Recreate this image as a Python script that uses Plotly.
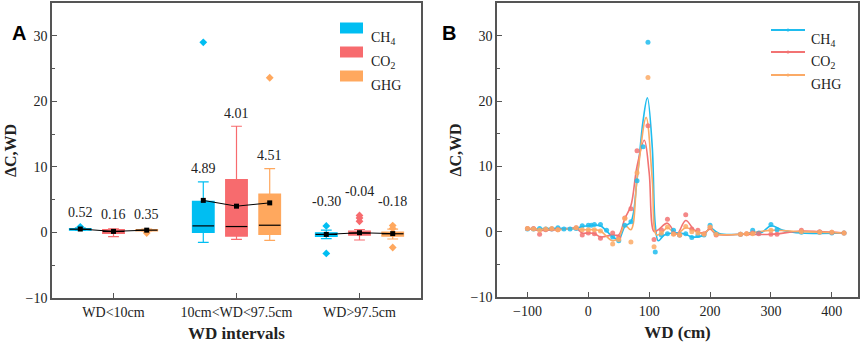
import plotly.graph_objects as go

# ---------------- data: panel A (box statistics) ----------------
groups = ["WD<10cm", "10cm<WD<97.5cm", "WD>97.5cm"]
series = ["CH4", "CO2", "GHG"]
series_labels = ["CH<sub>4</sub>", "CO<sub>2</sub>", "GHG"]

ch4_q1 = [0.35, 0.0, -0.6]
ch4_med = [0.5, 1.0, -0.3]
ch4_q3 = [0.6, 4.75, -0.05]
ch4_lf = [0.3, -1.5, -0.95]
ch4_uf = [0.7, 7.7, 0.35]
ch4_mean = [0.52, 4.89, -0.30]
ch4_out = [[0.85], [29.0], [1.0, -3.2]]

co2_q1 = [-0.15, -0.55, -0.4]
co2_med = [0.15, 0.9, -0.1]
co2_q3 = [0.45, 8.05, 0.2]
co2_lf = [-0.65, -1.05, -1.15]
co2_uf = [0.55, 16.2, 0.45]
co2_mean = [0.16, 4.01, -0.04]
co2_out = [[], [], [1.7, 2.2, 2.6]]

ghg_q1 = [0.25, -0.3, -0.55]
ghg_med = [0.35, 1.1, -0.2]
ghg_q3 = [0.45, 5.85, 0.05]
ghg_lf = [0.2, -1.2, -1.0]
ghg_uf = [0.5, 9.75, 0.5]
ghg_mean = [0.35, 4.51, -0.18]
ghg_out = [[-0.1], [23.6], [1.05, 0.6, -2.3]]

# ---------------- data: panel B (points and smoothed curves) ----------------
ch4_x = [-100, -90, -80, -70, -60, -50, -40, -30, -20, -10, 0, 5, 10, 20, 30, 40, 50, 60, 70, 80, 90, 98,
         110, 120, 130, 140, 150, 160, 170, 180, 190, 200, 210, 250, 270, 280, 300, 310, 350, 380, 400, 420]
ch4_y = [0.4, 0.4, 0.5, 0.4, 0.4, 0.6, 0.4, 0.4, 0.5, 0.9, 1.0, 1.0, 1.1, 1.1, 0.2, -0.8, -1.4, 1.0, 1.5, 7.8, 13.0, 29.0,
         -3.1, -0.5, -0.3, 0.2, -0.5, -0.3, -0.9, -0.6, -0.5, 1.0, -0.3, -0.4, 0.2, -0.2, 1.1, 0.3, -0.1, -0.1, -0.2, -0.2]

co2_x = [-100, -90, -80, -70, -60, -50, -20, -10, 0, 10, 20, 40, 50, 60, 70, 80, 98, 108, 120, 130, 140, 150,
         160, 170, 180, 190, 200, 210, 250, 260, 270, 280, 300, 310, 350, 380, 400, 420]
co2_y = [0.5, 0.5, -0.4, 0.3, 0.4, 0.3, 0.6, -0.5, -0.2, -0.3, -1.0, -0.2, -0.9, 2.1, 3.5, 12.4, 16.2, -1.2, 0.3, 1.9, -0.3, -0.5,
         2.6, 0.4, 0.2, -0.3, 0.6, -0.5, -0.4, -0.3, -0.2, -0.3, -0.4, -0.4, 0.2, 0.0, -0.1, -0.2]

ghg_x = [-100, -90, -80, -70, -60, -50, -20, -10, 0, 10, 20, 40, 50, 60, 70, 80, 98, 108, 120, 130, 140, 150,
         160, 170, 180, 190, 200, 210, 250, 260, 270, 300, 350, 380, 400, 420]
ghg_y = [0.5, 0.4, 0.2, 0.4, 0.5, 0.3, 0.6, 0.3, 0.3, 0.3, 0.1, -1.9, -1.2, 2.0, -1.6, 9.0, 23.6, -2.3, -0.2, 0.7, -0.4, -0.5,
         0.8, 0.0, -0.2, -0.4, 0.7, -0.4, -0.4, -0.3, -0.3, 0.2, 0.0, -0.1, -0.1, -0.2]

ch4_fit_x = [-100, -50, -20, -10, 0, 10, 20, 30, 40, 50, 60, 70, 80, 90, 97, 105, 110, 115, 125, 140, 160, 170,
             190, 200, 215, 250, 270, 285, 300, 320, 350, 420]
ch4_fit_y = [0.4, 0.5, 0.5, 0.8, 0.9, 1.0, 0.9, 0.1, -0.8, -1.2, 0.8, 1.5, 8.0, 17.0, 20.5, 13.0, 1.0, -1.4, -0.5, -0.2, -0.4, -0.8,
             -0.5, 0.6, -0.3, -0.4, -0.1, -0.1, 0.9, 0.2, -0.2, -0.2]

co2_fit_x = [-100, -80, -50, -20, -10, 0, 10, 20, 40, 50, 60, 70, 80, 92, 100, 108, 115, 130, 145, 160, 175,
             190, 200, 210, 250, 300, 350, 380, 420]
co2_fit_y = [0.5, 0.2, 0.3, 0.5, -0.2, -0.2, -0.3, -0.8, -0.5, -0.5, 2.0, 4.0, 10.0, 14.0, 9.0, 0.0, 0.3, 1.3, -0.4, 1.7, 0.2,
             -0.2, 0.4, -0.4, -0.4, -0.4, 0.1, 0.0, -0.2]

ghg_fit_x = [-100, -50, -20, -10, 10, 20, 40, 50, 60, 70, 80, 95, 105, 112, 120, 130, 145, 160, 180, 190, 200,
             210, 250, 300, 350, 420]
ghg_fit_y = [0.5, 0.3, 0.5, 0.3, 0.3, 0.1, -1.4, -0.9, 1.0, 0.3, 8.0, 17.5, 8.0, -0.5, -0.2, 0.6, -0.4, 0.6, -0.1, -0.3, 0.5,
             -0.3, -0.4, 0.2, 0.0, -0.2]

# ---------------- styling ----------------
W, H = 865, 343
SERIF = "Liberation Serif, Times New Roman, serif"
box_colors = ["#00BEF2", "#F76B6E", "#FFA85E"]
line_colors = ["#1FBCEE", "#F27373", "#FBAA66"]
offsets = [-0.27, 0.0, 0.27]
box_w = 0.176
label_pad = [2.2, 2.0, 3.7]

stats = [
    (ch4_q1, ch4_med, ch4_q3, ch4_lf, ch4_uf, ch4_mean, ch4_out),
    (co2_q1, co2_med, co2_q3, co2_lf, co2_uf, co2_mean, co2_out),
    (ghg_q1, ghg_med, ghg_q3, ghg_lf, ghg_uf, ghg_mean, ghg_out),
]

fig = go.Figure()
annotations = []
shapes = []

for si, (q1, med, q3, lf, uf, mean, outs) in enumerate(stats):
    xs = [g + 1 + offsets[si] for g in range(len(groups))]
    fig.add_trace(go.Box(
        x=xs, q1=q1, median=med, q3=q3, lowerfence=lf, upperfence=uf,
        width=box_w, whiskerwidth=0.5, boxpoints=False,
        fillcolor=box_colors[si], line=dict(color=box_colors[si], width=1.2),
        xaxis="x", yaxis="y", showlegend=False, hoverinfo="skip"))
    mx, my = [], []
    for g in range(len(groups)):
        mx += [xs[g] - box_w / 2, xs[g] + box_w / 2, None]
        my += [med[g], med[g], None]
    fig.add_trace(go.Scatter(x=mx, y=my, mode="lines", line=dict(color="black", width=1.2),
                             xaxis="x", yaxis="y", showlegend=False, hoverinfo="skip"))
    ox, oy = [], []
    for g in range(len(groups)):
        for v in outs[g]:
            ox.append(xs[g])
            oy.append(v)
    fig.add_trace(go.Scatter(x=ox, y=oy, mode="markers",
                             marker=dict(symbol="diamond", size=6, color=box_colors[si]),
                             xaxis="x", yaxis="y", showlegend=False, hoverinfo="skip"))

for g in range(len(groups)):
    xs = [g + 1 + offsets[si] for si in range(3)]
    ys = [stats[si][5][g] for si in range(3)]
    fig.add_trace(go.Scatter(x=xs, y=ys, mode="lines+markers",
                             line=dict(color="black", width=1),
                             marker=dict(symbol="square", size=5, color="black"),
                             xaxis="x", yaxis="y", showlegend=False, hoverinfo="skip"))
    for si in range(3):
        uf = stats[si][4][g]
        outs = [v for v in stats[si][6][g] if v < uf + 5]
        top = max([uf] + outs)
        annotations.append(dict(x=xs[si], y=top + label_pad[g], xref="x", yref="y",
                                text=f"{ys[si]:.2f}", showarrow=False,
                                font=dict(family=SERIF, size=14, color="#222")))

pts = [(ch4_x, ch4_y), (co2_x, co2_y), (ghg_x, ghg_y)]
fits = [(ch4_fit_x, ch4_fit_y), (co2_fit_x, co2_fit_y), (ghg_fit_x, ghg_fit_y)]
for si in range(3):
    fig.add_trace(go.Scatter(x=fits[si][0], y=fits[si][1], mode="lines",
                             line=dict(color=line_colors[si], width=1.6, shape="spline", smoothing=1.0),
                             xaxis="x2", yaxis="y2", showlegend=False, hoverinfo="skip"))
for si in range(3):
    fig.add_trace(go.Scatter(x=pts[si][0], y=pts[si][1], mode="markers",
                             marker=dict(size=5, color=line_colors[si], opacity=0.85),
                             xaxis="x2", yaxis="y2", showlegend=False, hoverinfo="skip"))

def px(x):
    return x / W

def py(y):
    return 1 - y / H

for si, yc in enumerate([28, 52, 76]):
    shapes.append(dict(type="rect", xref="paper", yref="paper",
                       x0=px(340), x1=px(363), y0=py(yc + 5.5), y1=py(yc - 5.5),
                       fillcolor=box_colors[si], line=dict(width=0)))
    annotations.append(dict(x=px(369), y=py(yc), xref="paper", yref="paper", xanchor="left",
                            text=series_labels[si], showarrow=False,
                            font=dict(family=SERIF, size=14, color="#222")))
for si, yc in enumerate([30, 52, 75]):
    shapes.append(dict(type="line", xref="paper", yref="paper",
                       x0=px(771), x1=px(805), y0=py(yc), y1=py(yc),
                       line=dict(color=line_colors[si], width=1.8)))
    shapes.append(dict(type="circle", xref="paper", yref="paper",
                       x0=px(786.5), x1=px(789.5), y0=py(yc + 1.5), y1=py(yc - 1.5),
                       fillcolor=line_colors[si], line=dict(width=0)))
    annotations.append(dict(x=px(809), y=py(yc), xref="paper", yref="paper", xanchor="left",
                            text=series_labels[si], showarrow=False,
                            font=dict(family=SERIF, size=14, color="#222")))

for letter, xc in [("A", 10), ("B", 449)]:
    annotations.append(dict(x=px(xc), y=py(20), xref="paper", yref="paper",
                            text=f"<b>{letter}</b>", showarrow=False,
                            font=dict(family="Liberation Sans, Arial, sans-serif", size=20, color="black")))

axis_common = dict(showline=True, linecolor="#555", linewidth=1.5, mirror=True, automargin=False,
                   ticks="inside", ticklen=5, tickcolor="#555", showgrid=False, zeroline=False,
                   tickfont=dict(family=SERIF, size=14, color="#222"))
yaxis_common = dict(axis_common, range=[-10, 35], dtick=10, tick0=0,
                    minor=dict(ticks="inside", dtick=5, ticklen=3, tickcolor="#555"),
                    title=dict(text="<b>ΔC,WD</b>", font=dict(family=SERIF, size=16, color="#222"), standoff=5))

fig.update_layout(
    width=W, height=H, margin=dict(l=0, r=0, t=0, b=0, autoexpand=False),
    paper_bgcolor="white", plot_bgcolor="white", boxmode="overlay",
    xaxis=dict(axis_common, domain=[px(52), px(421)], range=[0.5, 3.5],
               tickvals=[1, 2, 3], ticktext=groups, anchor="y",
               title=dict(text="<b>WD intervals</b>", font=dict(family=SERIF, size=17, color="#222"), standoff=9)),
    yaxis=dict(yaxis_common, domain=[py(298), py(3)], anchor="x"),
    xaxis2=dict(axis_common, domain=[px(497), px(858)], range=[-150, 443],
                dtick=100, tick0=0, anchor="y2",
                title=dict(text="<b>WD (cm)</b>", font=dict(family=SERIF, size=17, color="#222"), standoff=9)),
    yaxis2=dict(yaxis_common, domain=[py(297), py(3)], anchor="x2"),
    annotations=annotations, shapes=shapes,
)

fig.write_html("out.html", config={"displayModeBar": False},
               post_script="document.body.style.margin='0';document.body.style.padding='0';")
